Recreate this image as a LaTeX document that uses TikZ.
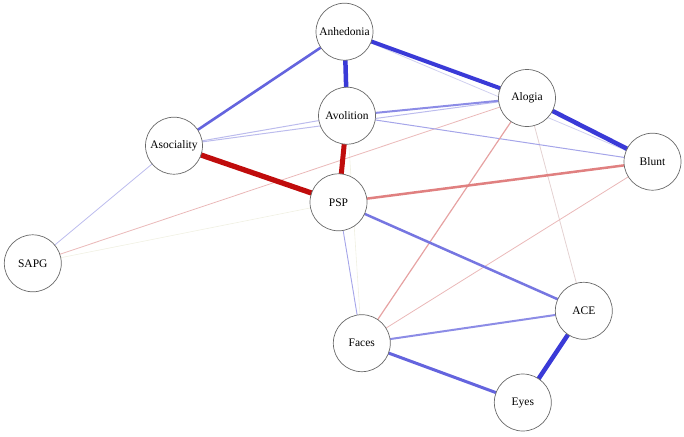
\documentclass[tikz,border=0pt]{standalone}
\usepackage{fontspec}
\setmainfont{Liberation Serif}
\usetikzlibrary{backgrounds}
\definecolor{bthick}{RGB}{58,58,215}
\definecolor{bmed}{RGB}{100,100,222}
\definecolor{bmed2}{RGB}{118,118,225}
\definecolor{blight}{RGB}{140,140,230}
\definecolor{bthin}{RGB}{165,165,233}
\definecolor{bfaint}{RGB}{188,188,237}
\definecolor{bvfaint}{RGB}{208,208,239}
\definecolor{rthick}{RGB}{192,12,12}
\definecolor{rmed}{RGB}{224,128,128}
\definecolor{rlight}{RGB}{230,162,162}
\definecolor{rthin}{RGB}{234,184,184}
\definecolor{rfaint}{RGB}{228,210,210}
\definecolor{yfaint}{RGB}{240,240,226}
\definecolor{nodeborder}{RGB}{105,105,105}
\tikzset{
  var/.style={circle, draw=nodeborder, line width=0.7pt, fill=white, minimum size=57pt, inner sep=0pt, font=\fontsize{11.5}{13}\selectfont},
  edge/.style={line cap=butt}
}
\begin{document}
\begin{tikzpicture}[x=1pt,y=-1pt]
\useasboundingbox (0,0) rectangle (684,436);
\node[var] (anh) at (344.5,31.7) {Anhedonia};
\node[var] (avo) at (347,115.7) {Avolition};
\node[var] (alo) at (527,98) {Alogia};
\node[var] (aso) at (174,145.7) {Asociality};
\node[var] (blu) at (652.5,161.7) {Blunt};
\node[var] (psp) at (338.5,202.3) {PSP};
\node[var] (sapg) at (32.8,263.3) {SAPG};
\node[var] (ace) at (583.8,310.8) {ACE};
\node[var] (fac) at (361.8,343.2) {Faces};
\node[var] (eye) at (522.8,402.5) {Eyes};
\begin{scope}[on background layer]
\draw[edge, yfaint, line width=0.6pt] (sapg.center) -- (psp.center);
\draw[edge, yfaint, line width=0.6pt] (avo.center) -- (fac.center);
\draw[edge, rfaint, line width=0.8pt] (alo.center) -- (ace.center);
\draw[edge, bvfaint, line width=0.8pt] (anh.center) -- (blu.center);
\draw[edge, rthin, line width=0.8pt] (blu.center) -- (fac.center);
\draw[edge, rthin, line width=0.8pt] (alo.center) -- (sapg.center);
\draw[edge, bfaint, line width=0.8pt] (sapg.center) -- (aso.center);
\draw[edge, bfaint, line width=1pt] (aso.center) -- (avo.center);
\draw[edge, bfaint, line width=1pt] (aso.center) -- (alo.center);
\draw[edge, bthin, line width=0.9pt] (psp.center) -- (fac.center);
\draw[edge, bthin, line width=1pt] (avo.center) -- (blu.center);
\draw[edge, rlight, line width=1.2pt] (alo.center) -- (fac.center);
\draw[edge, blight, line width=2pt] (avo.center) -- (alo.center);
\draw[edge, blight, line width=2pt] (fac.center) -- (ace.center);
\draw[edge, rmed, line width=2.5pt] (psp.center) -- (blu.center);
\draw[edge, bmed2, line width=2.5pt] (psp.center) -- (ace.center);
\draw[edge, bmed, line width=2.6pt] (anh.center) -- (aso.center);
\draw[edge, bmed, line width=3pt] (fac.center) -- (eye.center);
\draw[edge, bthick, line width=4pt] (anh.center) -- (alo.center);
\draw[edge, bthick, line width=4.5pt] (alo.center) -- (blu.center);
\draw[edge, bthick, line width=4.5pt] (ace.center) -- (eye.center);
\draw[edge, bthick, line width=4.5pt] (anh.center) -- (avo.center);
\draw[edge, rthick, line width=5pt] (avo.center) -- (psp.center);
\draw[edge, rthick, line width=5.3pt] (aso.center) -- (psp.center);
\end{scope}
\end{tikzpicture}
\end{document}
